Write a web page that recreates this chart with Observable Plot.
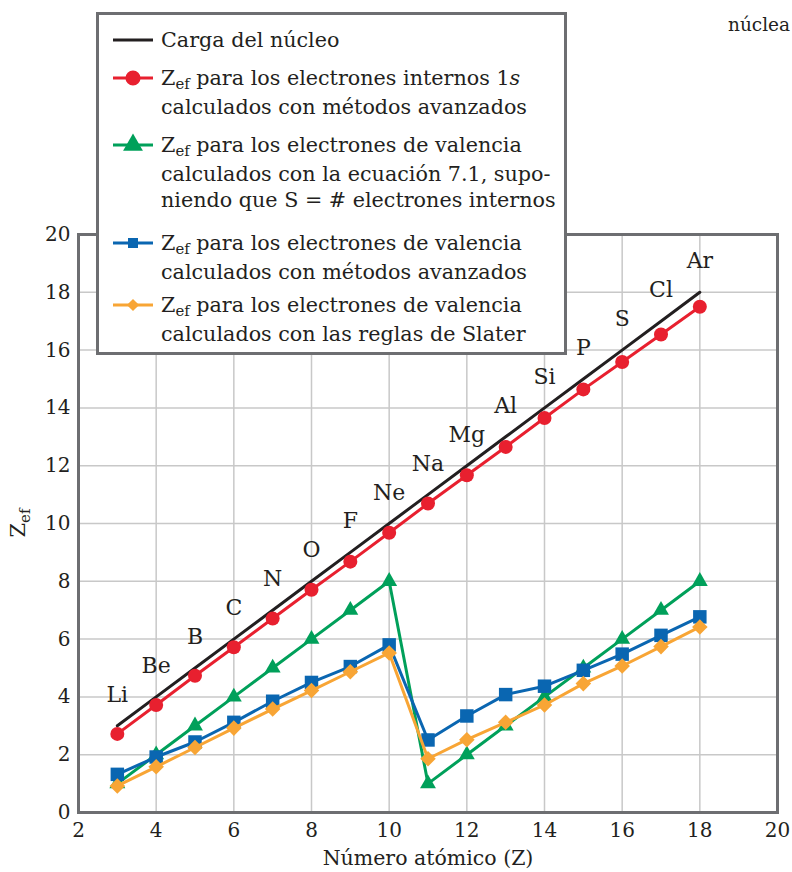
<!DOCTYPE html>
<html>
<head>
<meta charset="utf-8">
<script src="https://cdn.jsdelivr.net/npm/d3@7"></script>
<script src="https://cdn.jsdelivr.net/npm/@observablehq/plot@0.6"></script>
<style>
  body { margin: 0; background: #fff; }
  #wrap { position: relative; width: 792px; height: 872px; overflow: hidden; font-family: "DejaVu Serif", serif; color: #231f20; }
  #legend { position: absolute; left: 96px; top: 12px; width: 465px; height: 337px; border: 3px solid #6d6e71; background: #fff; }
  .row { position: absolute; left: 62px; font-size: 20.7px; line-height: 26.5px; white-space: nowrap; }
  .sub { font-size: 0.72em; position: relative; top: 0.3em; }
  #corner { position: absolute; left: 728px; top: 14px; font-size: 18.5px; white-space: nowrap; }
</style>
</head>
<body>
<div id="wrap">
  <div id="chart"></div>
  <div id="corner">núclea</div>
  <div id="legend"></div>
</div>
<script>
// ---- data ----
const atomicNumber = [3,4,5,6,7,8,9,10,11,12,13,14,15,16,17,18];
const elements = ["Li","Be","B","C","N","O","F","Ne","Na","Mg","Al","Si","P","S","Cl","Ar"];
const nuclearCharge = [3,4,5,6,7,8,9,10,11,12,13,14,15,16,17,18];
const zef1sAdvanced = [2.72,3.72,4.73,5.72,6.71,7.71,8.68,9.68,10.69,11.67,12.65,13.65,14.64,15.59,16.54,17.50];
const zefValenceSimple = [1,2,3,4,5,6,7,8,1,2,3,4,5,6,7,8];
const zefValenceAdvanced = [1.32,1.92,2.44,3.12,3.85,4.50,5.05,5.80,2.51,3.34,4.08,4.37,4.92,5.48,6.13,6.77];
const zefValenceSlater = [0.92,1.58,2.25,2.92,3.58,4.22,4.87,5.52,1.86,2.52,3.12,3.72,4.46,5.07,5.74,6.42];
const xTicks = [2,4,6,8,10,12,14,16,18,20];
const yTicks = [0,2,4,6,8,10,12,14,16,18,20];
const xLabel = "Número atómico (Z)";
const legendItems = [
  {key: "nucleus", lines: ["Carga del núcleo"]},
  {key: "inner", lines: ["Z<span class='sub'>ef</span> para los electrones internos 1<i>s</i>", "calculados con métodos avanzados"]},
  {key: "simple", lines: ["Z<span class='sub'>ef</span> para los electrones de valencia", "calculados con la ecuación 7.1, supo-", "niendo que S = # electrones internos"]},
  {key: "advanced", lines: ["Z<span class='sub'>ef</span> para los electrones de valencia", "calculados con métodos avanzados"]},
  {key: "slater", lines: ["Z<span class='sub'>ef</span> para los electrones de valencia", "calculados con las reglas de Slater"]}
];

// ---- styles ----
const C = {nucleus: "#231f20", inner: "#e8202f", simple: "#00a05a", advanced: "#0a66b1", slater: "#f8a535"};
const grid = "#c8c8c8", frameColor = "#6d6e71";

const rows = atomicNumber.map((z, i) => ({
  z, el: elements[i], nucleus: nuclearCharge[i], inner: zef1sAdvanced[i],
  simple: zefValenceSimple[i], advanced: zefValenceAdvanced[i], slater: zefValenceSlater[i]
}));

function series(key, symbol, r) {
  return [
    Plot.line(rows, {x: "z", y: key, stroke: C[key], strokeWidth: 3}),
    Plot.dot(rows, {x: "z", y: key, fill: C[key], stroke: "none", symbol, r})
  ];
}

const chart = Plot.plot({
  width: 792,
  height: 872,
  marginLeft: 78,
  marginRight: 15,
  marginTop: 234,
  marginBottom: 60,
  style: {fontFamily: "DejaVu Serif, serif", fontSize: "20px", color: "#231f20", background: "transparent"},
  x: {domain: [2, 20]},
  y: {domain: [0, 20]},
  marks: [
    Plot.gridX(xTicks.slice(1, -1), {stroke: grid, strokeOpacity: 1, strokeWidth: 1.5}),
    Plot.gridY(yTicks.slice(1, -1), {stroke: grid, strokeOpacity: 1, strokeWidth: 1.5}),
    Plot.line(rows, {x: "z", y: "nucleus", stroke: C.nucleus, strokeWidth: 3}),
    ...series("inner", "circle", 7),
    ...series("simple", "triangle", 5.9),
    ...series("advanced", "square", 7.6),
    ...series("slater", "diamond2", 7),
    Plot.text(rows, {x: "z", y: "nucleus", text: "el", dy: -31, fontSize: 22, fill: "#231f20", textAnchor: "middle", lineAnchor: "middle"}),
    Plot.axisX(xTicks, {tickSize: 0, tickPadding: 10, fontSize: 20, fill: "#231f20", label: null}),
    Plot.axisY(yTicks, {tickSize: 0, tickPadding: 8, fontSize: 20, fill: "#231f20", label: null}),
    Plot.text([xLabel], {frameAnchor: "bottom", dy: 46, fontSize: 20.5, fill: "#231f20", lineAnchor: "middle"}),
    Plot.frame({stroke: frameColor, strokeWidth: 3})
  ]
});
document.getElementById("chart").appendChild(chart);

// y-axis label Z_ef with a real subscript
const svg = d3.select(chart);
const yl = svg.append("text")
  .attr("transform", "translate(25,523) rotate(-90)")
  .attr("text-anchor", "middle")
  .attr("fill", "#231f20")
  .attr("font-family", "DejaVu Serif, serif")
  .attr("font-size", 21);
yl.append("tspan").text("Z");
yl.append("tspan").attr("font-size", 15).attr("dy", 5).text("ef");

// legend
const legend = document.getElementById("legend");
const rowTops = [12, 50, 117, 215, 277];
const symbols = {nucleus: null, inner: "circle", simple: "triangle", advanced: "square", slater: "diamond2"};
const symMap = {circle: d3.symbolCircle, triangle: d3.symbolTriangle, square: d3.symbolSquare, diamond2: d3.symbolDiamond2};
const symSize = {circle: 180, triangle: 170, square: 100, diamond2: 95};
legendItems.forEach((it, i) => {
  const top = rowTops[i];
  const div = document.createElement("div");
  div.className = "row";
  div.style.top = top + "px";
  div.innerHTML = it.lines.join("<br>");
  legend.appendChild(div);
  const s = d3.create("svg").attr("width", 44).attr("height", 26)
    .style("position", "absolute").style("left", "12px").style("top", top + "px");
  s.append("line").attr("x1", 2).attr("x2", 42).attr("y1", 13).attr("y2", 13)
    .attr("stroke", C[it.key]).attr("stroke-width", 3);
  const sym = symbols[it.key];
  if (sym) {
    s.append("path").attr("transform", "translate(22,13)")
      .attr("d", d3.symbol(symMap[sym], symSize[sym])()).attr("fill", C[it.key]);
  }
  legend.appendChild(s.node());
});
</script>
</body>
</html>
